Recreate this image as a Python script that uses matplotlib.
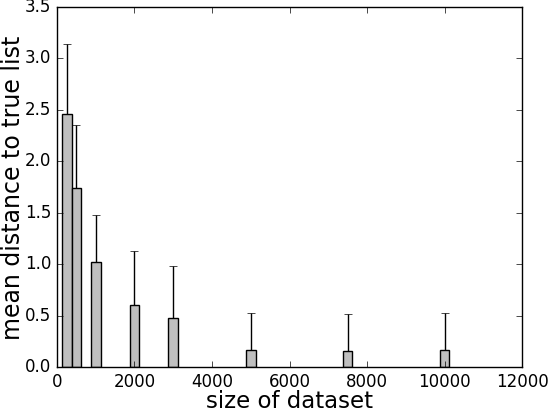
import numpy as np
import matplotlib
matplotlib.use('Agg')
import matplotlib.pyplot as plt

plt.style.use('classic')

# dataset sizes and results
sizes = [250, 500, 1000, 2000, 3000, 5000, 7500, 10000]
mean_dist = [2.46, 1.74, 1.02, 0.60, 0.48, 0.165, 0.155, 0.165]
err_top = [3.14, 2.35, 1.48, 1.13, 0.98, 0.525, 0.512, 0.525]

upper = np.array(err_top) - np.array(mean_dist)
lower = np.zeros(len(sizes))

fig = plt.figure(figsize=(5.48, 4.08), dpi=100)
ax = fig.add_axes([0.104, 0.1005, 0.8486, 0.8825])

ax.bar(sizes, mean_dist, width=250, align='center', color='0.75', edgecolor='black', linewidth=1.0)
ax.errorbar(sizes, mean_dist, yerr=[lower, upper], fmt='none', ecolor='black', capsize=3, elinewidth=1.0)

ax.set_xlim(0, 12000)
ax.set_ylim(0, 3.5)
ax.set_xticks(np.arange(0, 12001, 2000))
ax.set_yticks(np.arange(0, 3.51, 0.5))
ax.tick_params(labelsize=12)
ax.set_xlabel('size of dataset', fontsize=16.5)
ax.set_ylabel('mean distance to true list', fontsize=17)
ax.xaxis.set_label_coords(0.5, -0.064)
ax.yaxis.set_label_coords(-0.069, 0.497)

fig.savefig('out.png', dpi=100)
